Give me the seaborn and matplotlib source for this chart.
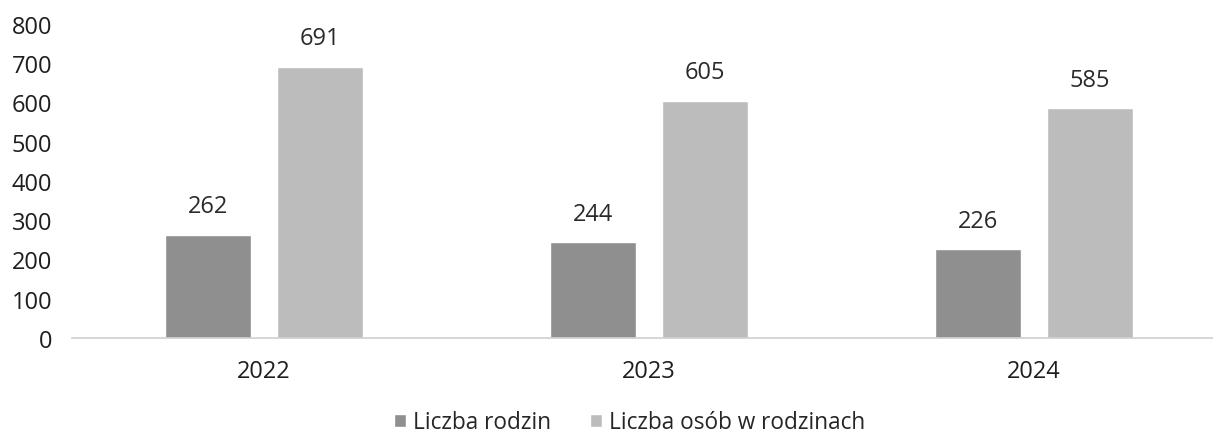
import pandas as pd
import matplotlib.pyplot as plt
import seaborn as sns

lata = ["2022", "2023", "2024"]
liczba_rodzin = [262, 244, 226]
liczba_osob = [691, 605, 585]
serie = ["Liczba rodzin", "Liczba osób w rodzinach"]
kolory = ["#8f8f8f", "#bcbcbc"]

df = pd.DataFrame({
    "rok": lata * 2,
    "wartosc": liczba_rodzin + liczba_osob,
    "seria": [serie[0]] * 3 + [serie[1]] * 3,
})

sns.set_style("white")
plt.rcParams['font.family'] = ['Open Sans', 'DejaVu Sans']

fig = plt.figure(figsize=(12.13, 4.39), dpi=100)
ax = fig.add_axes([0.059, 0.228, 0.941, 0.715])

sns.barplot(data=df, x="rok", y="wartosc", hue="seria", palette=kolory,
            width=0.58, gap=0.23, ax=ax, saturation=1)

for kont in ax.containers:
    ax.bar_label(kont, padding=12, fontsize=17, color="#2a2a2a")

ax.set_ylim(0, 800)
ax.set_xlim(-0.5, 2.465)
ax.set_yticks(range(0, 801, 100))
ax.tick_params(axis="y", labelsize=17, length=0, pad=14, colors="#1e1e1e")
ax.tick_params(axis="x", labelsize=17, length=0, pad=15, colors="#1e1e1e")
ax.set_xlabel("")
ax.set_ylabel("")
for s in ["top", "right", "left"]:
    ax.spines[s].set_visible(False)
ax.spines["bottom"].set_color("#cfcfcf")
ax.spines["bottom"].set_linewidth(1.2)

ax.legend(loc="center", bbox_to_anchor=(0.519, 0.036), bbox_transform=fig.transFigure,
          ncol=2, frameon=False, fontsize=16.3, handlelength=0.53, handleheight=0.53,
          columnspacing=1.75, handletextpad=0.3)

fig.savefig("out.png", dpi=100)
